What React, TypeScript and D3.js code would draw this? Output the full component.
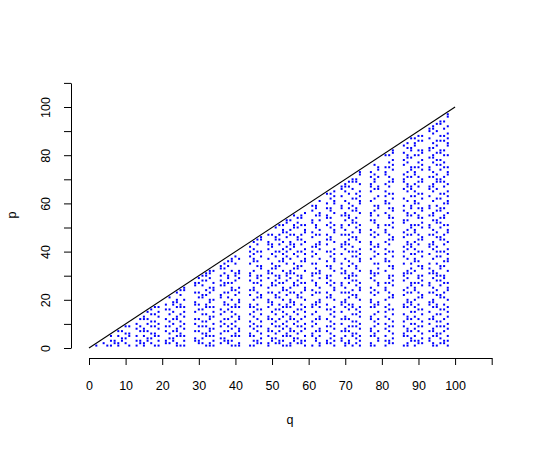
import React, { useEffect, useRef } from "react";
import * as d3 from "d3";

// columns (q) that carry points
const qCols = [
  2, 3, 4, 5, 6, 7, 8, 9, 10, 11, 13, 14, 15, 16, 17, 18, 19, 21, 22, 23, 24,
  25, 26, 29, 30, 31, 32, 33, 34, 36, 37, 38, 39, 40, 41, 44, 45, 46, 47, 49,
  50, 51, 52, 53, 54, 55, 56, 57, 58, 59, 61, 62, 63, 65, 66, 67, 69, 70, 71,
  72, 73, 74, 77, 78, 79, 81, 82, 83, 86, 87, 88, 89, 90, 91, 93, 94, 95, 96,
  97, 98,
];
// which p-pattern each column uses
const colKeys = [
  "adbecfadbe", "cfadbec", "fbdaec", "dfbeac", "bdfcea", "ecfb",
  "adbfceadbfc", "eda", "fbc", "dafebc", "aed", "cfb", "eadcfb", "daebfc",
].join("");

// p values seen in the different kinds of column
const pA = [1, 2, 5, 7, 8, 12, 13, 17, 19, 20, 23, 25, 29, 31, 32, 37, 41, 43, 44, 47, 49, 53, 55, 56, 61, 65, 67, 68, 71, 73, 77, 79, 80, 83, 85, 89, 91, 92, 95, 97];
const pB = [2, 4, 6, 9, 11, 14, 16, 21, 22, 26, 28, 30, 33, 34, 38, 40, 45, 46, 50, 52, 54, 57, 58, 62, 64, 69, 70, 74, 76, 78, 81, 82, 86, 88, 93, 94, 98];
const pC = [1, 3, 5, 8, 10, 13, 15, 17, 20, 24, 25, 27, 32, 36, 37, 39, 41, 44, 48, 49, 51, 56, 60, 61, 63, 65, 68, 72, 73, 75, 80, 84, 85, 87, 89, 92, 96, 97];
const pD = [3, 4, 7, 10, 12, 15, 18, 19, 23, 26, 27, 31, 33, 35, 39, 42, 43, 47, 50, 51, 55, 58, 59, 63, 66, 67, 71, 74, 75, 79, 82, 83, 87, 90, 91, 95, 98];
const pE = [1, 5, 6, 9, 11, 14, 17, 18, 22, 24, 28, 30, 31, 35, 38, 40, 42, 46, 48, 52, 53, 57, 59, 62, 66, 69, 70, 72, 76, 78, 81, 84, 86, 90, 93, 96];
const pF = [2, 3, 7, 9, 12, 16, 18, 21, 23, 27, 29, 30, 34, 36, 40, 43, 45, 47, 51, 54, 55, 58, 60, 64, 67, 69, 71, 75, 77, 80, 82, 86, 88, 91, 94, 97];

const xTicks = [0, 10, 20, 30, 40, 50, 60, 70, 80, 90, 100, 110];
const yTicks = [0, 10, 20, 30, 40, 50, 60, 70, 80, 90, 100, 110];
const diag = [0, 100];

const patterns: Record<string, number[]> = { a: pA, b: pB, c: pC, d: pD, e: pE, f: pF };

const points: { q: number; p: number }[] = [];
qCols.forEach((q, i) => {
  patterns[colKeys[i]].forEach((p) => {
    if (p < q) points.push({ q, p });
  });
});

const W = 545;
const H = 449;
const font = "'Liberation Sans', Arial, Helvetica, sans-serif";

const App = () => {
  const xRef = useRef<SVGGElement>(null);
  const yRef = useRef<SVGGElement>(null);

  const x = d3.scaleLinear().domain([0, 110]).range([89, 491.7]);
  const y = d3.scaleLinear().domain([0, 110]).range([348, 82.9]);

  useEffect(() => {
    const xa = d3
      .axisBottom(x)
      .tickValues(xTicks)
      .tickSize(7)
      .tickSizeOuter(0)
      .tickPadding(16)
      .tickFormat((d) => ((d as number) <= 100 ? String(d) : ""));
    const gx = d3.select(xRef.current!);
    gx.selectAll("*").remove();
    gx.call(xa);
    gx.select(".domain").attr("stroke", "#000");
    gx.selectAll("text").attr("font-size", 12.5).attr("font-family", font).attr("fill", "#000");

    const ya = d3
      .axisLeft(y)
      .tickValues(yTicks)
      .tickSize(7)
      .tickSizeOuter(0)
      .tickFormat((d) => ((d as number) % 20 === 0 && (d as number) <= 100 ? String(d) : ""));
    const gy = d3.select(yRef.current!);
    gy.selectAll("*").remove();
    gy.call(ya);
    gy.selectAll("text")
      .attr("font-size", 12.5)
      .attr("font-family", font)
      .attr("fill", "#000")
      .attr("x", 0)
      .attr("y", -21.5)
      .attr("dy", null)
      .attr("text-anchor", "middle")
      .attr("transform", "rotate(-90)");
  }, []);

  return (
    <svg
      width={W}
      height={H}
      style={{ position: "absolute", left: 0, top: 0, background: "#fff" }}
    >
      <g ref={xRef} transform="translate(0,358)" />
      <g ref={yRef} transform="translate(71,0)" />
      <line
        x1={x(diag[0])}
        y1={y(diag[0])}
        x2={x(diag[1])}
        y2={y(diag[1])}
        stroke="#000"
        strokeWidth={1.1}
      />
      <g fill="#0000ff">
        {points.map((d, i) => (
          <rect key={i} x={x(d.q) - 1} y={y(d.p) - 1} width={2} height={2} />
        ))}
      </g>
      <text x={290} y={424} fontSize={12.5} fontFamily={font} textAnchor="middle">
        q
      </text>
      <text
        transform="translate(16,215) rotate(-90)"
        fontSize={12.5}
        fontFamily={font}
        textAnchor="middle"
      >
        p
      </text>
    </svg>
  );
};

export default App;
